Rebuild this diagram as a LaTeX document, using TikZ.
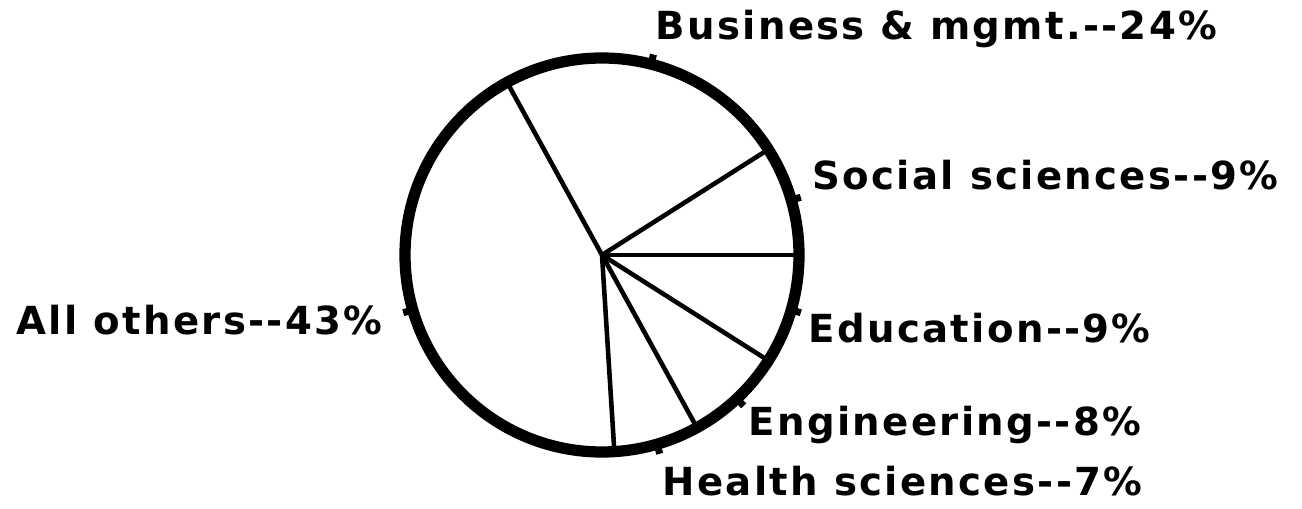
\documentclass[tikz,border=0pt]{standalone}
\usepackage{fontspec}
\newfontfamily\chartfont{DejaVu Sans}[LetterSpace=6]
\usepackage{tikz}
\usetikzlibrary{calc}
\tikzset{
	share/.style={inner sep=0pt, font=\chartfont\bfseries\fontsize{11}{13}\selectfont},
	spoke/.style={line width=1.3pt},
	rim/.style={line width=3.2pt},
	tick/.style={line width=2pt}
}
\def\pointer(#1:#2){\draw[tick] ($(c)+(#1:#2)$) -- ($(c)+(#1:#2+0.1)$);}

\begin{document}
\begin{tikzpicture}
				\useasboundingbox (0, 0) rectangle (13.02, 5.08);
				\coordinate (c) at (6.02, 2.53);
				
				\draw[spoke] (c) -- ++(0:1.97);
				\draw[spoke] (c) -- ++(32.4:1.97);
				\draw[spoke] (c) -- ++(118.8:1.97);
				\draw[spoke] (c) -- ++(273.6:1.97);
				\draw[spoke] (c) -- ++(298.8:1.97);
				\draw[spoke] (c) -- ++(327.6:1.97);
				
				\draw[rim] (c) circle (1.97);
				
				\pointer(16.2:1.97)
				\pointer(75.6:1.97)
				\pointer(196.2:1.97)
				\pointer(286.2:1.97)
				\pointer(313.2:1.97)
				\pointer(343.8:1.97)
				
				\node[share, anchor=base west] (business) at (6.55, 4.68) {Business \& mgmt.--24\%};
				\node[share, anchor=base west] (social) at (8.12, 3.18) {Social sciences--9\%};
				\node[share, anchor=base west] (education) at (8.08, 1.65) {Education--9\%};
				\node[share, anchor=base west] (engineering) at (7.48, 0.73) {Engineering--8\%};
				\node[share, anchor=base west] (health) at (6.62, 0.13) {Health sciences--7\%};
				\node[share, anchor=base east] (others) at (3.83, 1.73) {All others--43\%};
			\end{tikzpicture}
\end{document}
